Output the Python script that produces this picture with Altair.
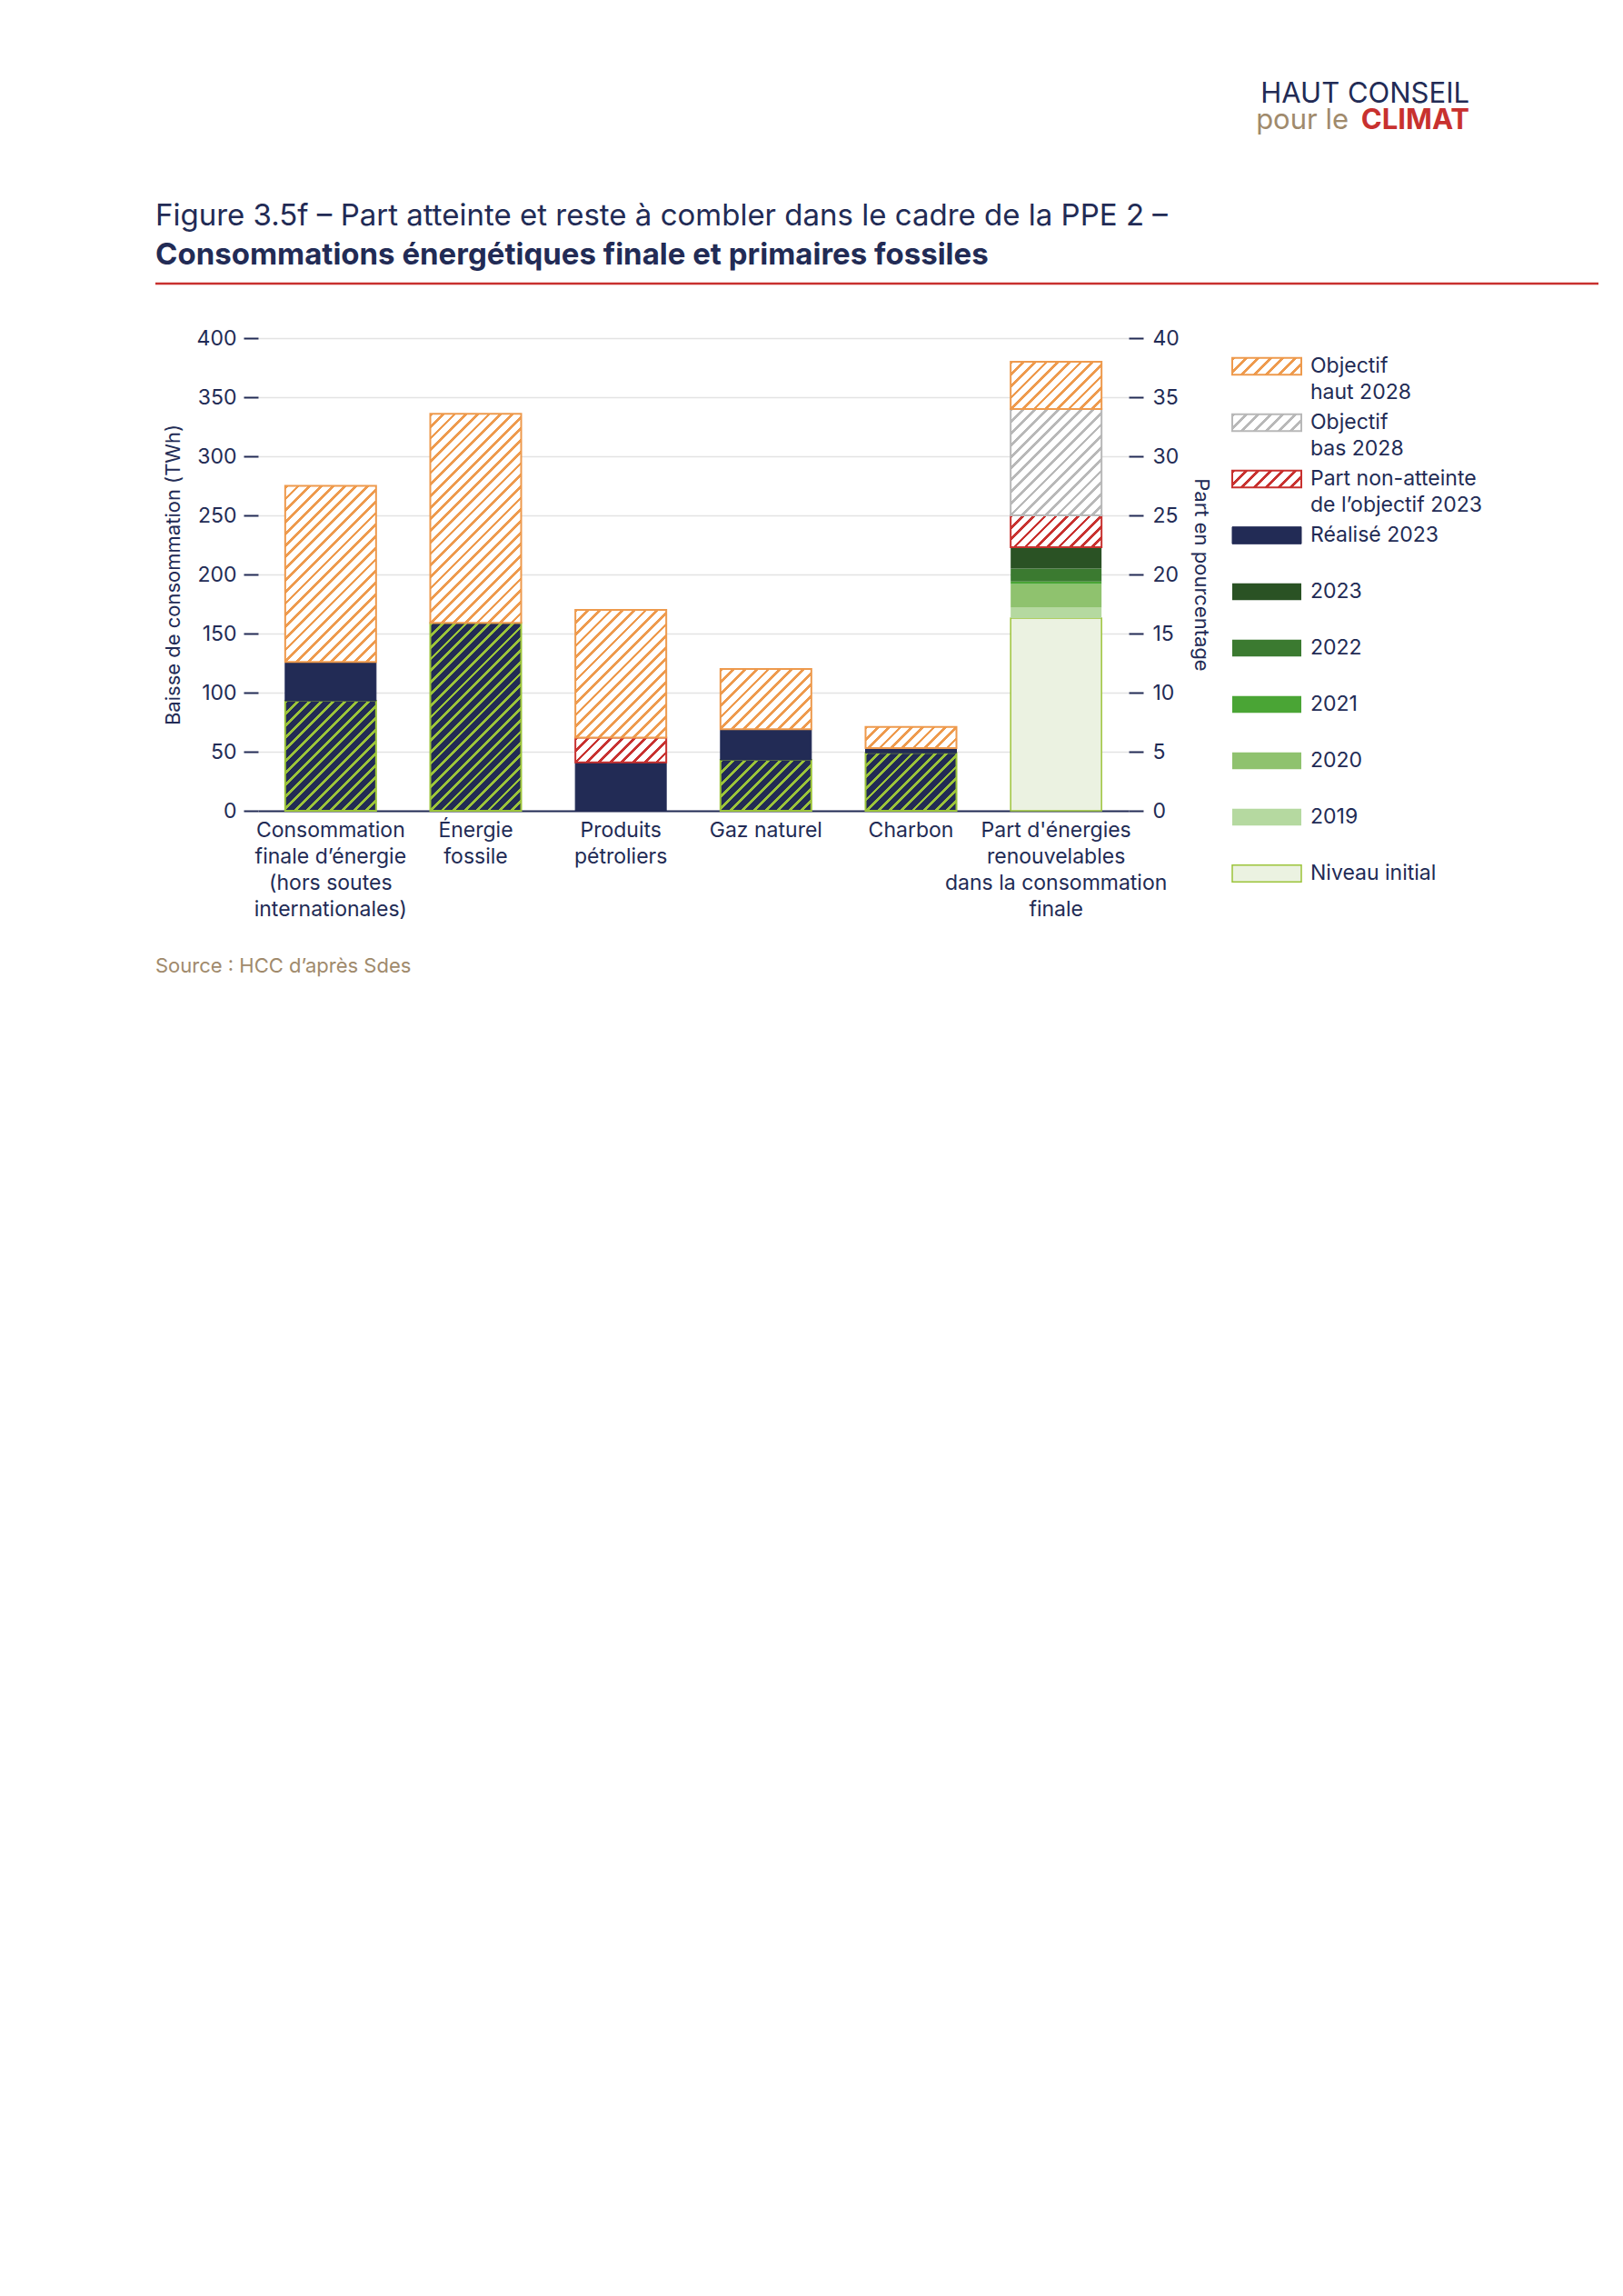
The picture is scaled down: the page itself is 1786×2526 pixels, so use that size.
import altair as alt

FONT = "Inter"
NAVY = "#222b55"
ORANGE = "#ee9a4d"
RED = "#c8312f"
GREY = "#b8b8b8"
LIME = "#9cc43a"

cats = ["Consommation|finale d’énergie|(hors soutes|internationales)", "Énergie|fossile",
        "Produits|pétroliers", "Gaz naturel", "Charbon",
        "Part d'énergies|renouvelables|dans la consommation|finale"]
fossil_cats = cats[:5]
# TWh
atteint = [93, 159, 0, 43, 49]      # part de l'objectif 2023 atteinte (hachuré vert sur bleu)
realise = [33, 0, 41, 26, 4]        # réalisé 2023
non_atteint = [0, 0, 21, 0, 0]      # part non-atteinte de l'objectif 2023
haut_2028 = [149, 177, 108, 51, 18] # reste jusqu'à l'objectif haut 2028
# % renouvelables
enr_names = ["Niveau initial", "2019", "2020", "2021", "2022", "2023",
             "Part non-atteinte de l’objectif 2023", "Objectif bas 2028", "Objectif haut 2028"]
enr_vals = [16.3, 0.9, 2.0, 0.2, 1.1, 1.8, 2.7, 9.0, 4.0]

legend_items = ["Objectif\nhaut 2028", "Objectif\nbas 2028", "Part non-atteinte\nde l’objectif 2023",
                "Réalisé 2023", "2023", "2022", "2021", "2020", "2019", "Niveau initial"]

W, H, BAR = 958, 520, 100


def hatch(fg, bg, w, h, p=9.0, frac=0.3):
    n = max(1, round((w + h) / (p * 1.414)))
    c = (w + h) / (w * w + h * h)
    stops = []
    for i in range(n):
        a, b, e = i / n, (i + frac) / n, (i + 1) / n
        stops += [alt.GradientStop(offset=a, color=fg), alt.GradientStop(offset=b, color=fg),
                  alt.GradientStop(offset=b, color=bg), alt.GradientStop(offset=e, color=bg)]
    return alt.Gradient(gradient="linear", stops=stops, x1=0, y1=0, x2=c * w, y2=c * h)


def style(kind, hpx, w=BAR):
    if kind == "atteint":
        return dict(fill=hatch(LIME, NAVY, w, hpx), stroke=LIME, strokeWidth=2)
    if kind == "realise":
        return dict(fill=NAVY, stroke=NAVY, strokeWidth=1)
    if kind == "nonatt":
        return dict(fill=hatch(RED, "white", w, hpx), stroke=RED, strokeWidth=2)
    if kind == "haut":
        return dict(fill=hatch(ORANGE, "white", w, hpx), stroke=ORANGE, strokeWidth=2)
    if kind == "bas":
        return dict(fill=hatch(GREY, "white", w, hpx), stroke=GREY, strokeWidth=2)
    greens = {"2023": "#2a5224", "2022": "#3b7a30", "2021": "#4aa535", "2020": "#8fc26e",
              "2019": "#b5d9a0"}
    if kind == "init":
        return dict(fill="#ebf2e1", stroke=LIME, strokeWidth=1.5)
    return dict(fill=greens[kind], strokeWidth=0)


xenc = alt.X("cat:N", sort=cats, scale=alt.Scale(domain=cats),
             axis=alt.Axis(title=None, labelExpr="split(datum.label, '|')", labelAngle=0,
                           labelFontSize=23, labelColor=NAVY, labelFont=FONT, labelLimit=400,
                           labelLineHeight=29, labelPadding=10, ticks=False,
                           domainColor=NAVY, domainWidth=2, labelBaseline="top"))

layers = []
first_left = True
for i, c in enumerate(fossil_cats):
    y0 = 0
    for kind, arr in [("atteint", atteint), ("realise", realise), ("nonatt", non_atteint), ("haut", haut_2028)]:
        v = arr[i]
        if v <= 0:
            continue
        y1 = y0 + v
        ax = alt.Axis(title="Baisse de consommation (TWh)", values=list(range(0, 401, 50)),
                      tickSize=16, tickColor=NAVY, tickWidth=2, domain=False,
                      labelFontSize=23, labelColor=NAVY, labelFont=FONT, labelPadding=8,
                      titleFontSize=22, titleColor=NAVY, titleFont=FONT, titleFontWeight="normal",
                      titlePadding=14, grid=True, gridColor="#e3e3e3", gridWidth=1.5) if first_left else None
        first_left = False
        layers.append(
            alt.Chart(alt.Data(values=[{"cat": c, "y0": y0, "y1": y1}]))
            .mark_bar(size=BAR, **style(kind, v * H / 400))
            .encode(x=xenc, y=alt.Y("y0:Q", scale=alt.Scale(domain=[0, 400]), axis=ax), y2="y1:Q")
        )
        y0 = y1

kinds = ["init", "2019", "2020", "2021", "2022", "2023", "nonatt", "bas", "haut"]
y0 = 0
for j, (k, v) in enumerate(zip(kinds, enr_vals)):
    y1 = y0 + v
    ax = alt.Axis(title="Part en pourcentage", orient="right", values=list(range(0, 41, 5)),
                  tickSize=16, tickColor=NAVY, tickWidth=2, domain=False, grid=False,
                  labelFontSize=23, labelColor=NAVY, labelFont=FONT, labelPadding=10,
                  titleFontSize=22, titleColor=NAVY, titleFont=FONT, titleFontWeight="normal",
                  titlePadding=12) if j == 0 else None
    layers.append(
        alt.Chart(alt.Data(values=[{"cat": cats[5], "y0": y0, "y1": y1, "n": enr_names[j]}]))
        .mark_bar(size=BAR, **style(k, v * H / 40))
        .encode(x=xenc, y=alt.Y("y0:Q", scale=alt.Scale(domain=[0, 40]), axis=ax), y2="y1:Q")
    )
    y0 = y1

main = alt.layer(*layers).resolve_scale(y="independent").properties(width=W, height=H)

# legend
leg_kinds = ["haut", "bas", "nonatt", "realise", "2023", "2022", "2021", "2020", "2019", "init"]
yleg = alt.Y("item:N", sort=legend_items,
             scale=alt.Scale(domain=legend_items, paddingInner=0.7, paddingOuter=0.35), axis=None)
leg_layers = []
for it, k in zip(legend_items, leg_kinds):
    leg_layers.append(
        alt.Chart(alt.Data(values=[{"item": it}]))
        .mark_rect(**style(k, 18.6, 76))
        .encode(x=alt.value(0), x2=alt.value(76), y=yleg)
    )
leg_layers.append(
    alt.Chart(alt.Data(values=[{"item": it} for it in legend_items]))
    .mark_text(align="left", baseline="middle", fontSize=23, font=FONT, color=NAVY,
               lineBreak="\n", lineHeight=29)
    .encode(x=alt.value(86), y=yleg, text="item:N")
)
legend = alt.layer(*leg_layers).properties(width=270, height=620)

# header
hdr_data = [{"t": 0}]
def txt(text, x, y, size, color, weight="normal", align="left"):
    return alt.Chart(alt.Data(values=hdr_data)).mark_text(
        text=text, align=align, baseline="alphabetic", fontSize=size, font=FONT,
        color=color, fontWeight=weight).encode(x=alt.value(x), y=alt.value(y))

HW = 1475
header = alt.layer(
    txt("HAUT CONSEIL", 1333, 105, 31, NAVY, align="right"),
    txt("pour le", 1200, 134, 31, "#a08a6c", align="right"),
    txt("CLIMAT", 1333, 134, 31, RED, weight="bold", align="right"),
    txt("Figure 3.5f – Part atteinte et reste à combler dans le cadre de la PPE 2 –", -113, 240, 33, NAVY),
    txt("Consommations énergétiques finale et primaires fossiles", -113, 283, 33, NAVY, weight="bold"),
    alt.Chart(alt.Data(values=hdr_data)).mark_rule(color=RED, strokeWidth=2.5)
    .encode(x=alt.value(-113), x2=alt.value(HW), y=alt.value(304)),
).properties(width=HW, height=353)

source = alt.layer(
    txt("Source : HCC d’après Sdes", -113, 58, 22, "#a08a6c")
).properties(width=HW, height=80)

chart = alt.vconcat(
    header,
    alt.hconcat(main, legend, spacing=22),
    source,
    spacing=0,
).properties(padding={"left": 161, "top": 0, "right": 0, "bottom": 0}).configure_view(stroke=None)

chart.save("out.html", embed_options={"renderer": "svg", "actions": False})
